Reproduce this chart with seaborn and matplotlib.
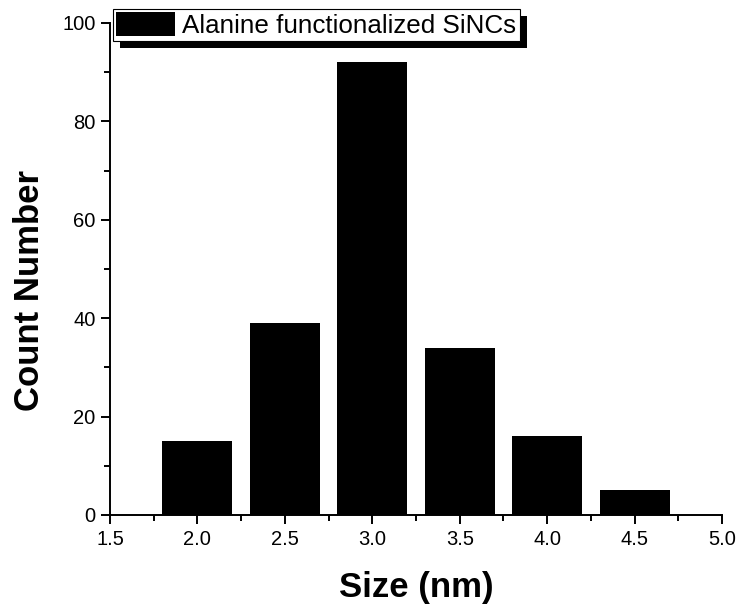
import pandas as pd
import matplotlib.pyplot as plt
import seaborn as sns
from matplotlib.ticker import MultipleLocator
from matplotlib.patches import Rectangle

# Данные гистограммы размеров
sizes = [2.0, 2.5, 3.0, 3.5, 4.0, 4.5]
counts = [15, 39, 92, 34, 16, 5]
label = 'Alanine functionalized SiNCs'

df = pd.DataFrame({'size': sizes, 'count': counts})

sns.set_style('ticks')
plt.rcParams['font.family'] = ['Liberation Sans', 'DejaVu Sans']
plt.rcParams['text.color'] = 'black'
plt.rcParams['axes.labelcolor'] = 'black'

fig = plt.figure(figsize=(7.38, 6.09), dpi=100)
ax = fig.add_axes([110 / 738, 94 / 609, 612 / 738, 492 / 609])
ax.set_facecolor('none')

sns.barplot(data=df, x='size', y='count', native_scale=True, width=0.8,
            color='black', saturation=1, edgecolor='black', linewidth=0,
            label=label, ax=ax)

ax.set_xlim(1.5, 5.0)
ax.set_ylim(0, 100)
ax.xaxis.set_major_locator(MultipleLocator(0.5))
ax.xaxis.set_minor_locator(MultipleLocator(0.25))
ax.yaxis.set_major_locator(MultipleLocator(20))
ax.yaxis.set_minor_locator(MultipleLocator(10))
ax.xaxis.set_major_formatter(plt.FormatStrFormatter('%.1f'))

ax.tick_params(which='major', direction='out', length=6.5, width=1.4,
               labelsize=14.5, colors='black', pad=4)
ax.tick_params(which='minor', direction='out', length=4, width=1.4, colors='black')
for s in ['top', 'right']:
    ax.spines[s].set_visible(False)
for s in ['left', 'bottom']:
    ax.spines[s].set_linewidth(1.4)
    ax.spines[s].set_color('black')

ax.set_xlabel('Size (nm)', fontsize=25, fontweight='bold', color='black')
ax.set_ylabel('Count Number', fontsize=25, fontweight='bold', color='black')
ax.xaxis.set_label_coords(0.5, -0.113)
ax.yaxis.set_label_coords(-0.105, 0.456)

leg = ax.legend(loc='upper left', bbox_to_anchor=(113 / 738, 1 - 9 / 609),
                bbox_transform=fig.transFigure, fontsize=18.7, frameon=True,
                fancybox=False, edgecolor='black', framealpha=1,
                handlelength=2.25, handleheight=1.05, handletextpad=0.3,
                borderpad=0.12, borderaxespad=0, labelcolor='black')
leg.get_frame().set_linewidth(0.8)
leg.set_zorder(6)

# тень легенды (как в Origin), смещение ~7 px
fig.canvas.draw()
bb = leg.get_window_extent().transformed(fig.transFigure.inverted())
dx, dy = 7 / 738, 7 / 609
ax.add_patch(Rectangle((bb.x0 + dx, bb.y0 - dy), bb.width, bb.height,
                       transform=fig.transFigure, facecolor='black',
                       edgecolor='none', clip_on=False, zorder=5))

fig.savefig('out.png', dpi=100)
